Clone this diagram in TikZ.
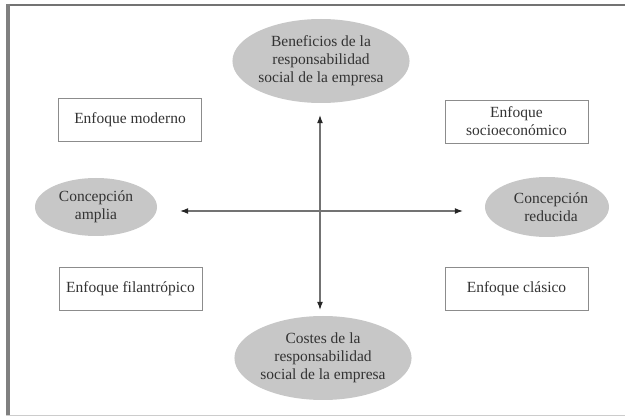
\documentclass[tikz,border=0pt]{standalone}
\usepackage{fontspec}
\setmainfont{Liberation Serif}
\usetikzlibrary{shapes.geometric, positioning, arrows.meta}
\tikzset{
    >={Latex[length=8pt,width=6pt,color=black!85]}, % solid dark arrow heads
    every node/.style={font=\fontsize{15.5}{18}\selectfont, text=black!80, align=center},
    oval/.style={ellipse, fill=black!22, inner sep=0pt}, % grey ovals, no outline
    enfoque/.style={draw=black!45, line width=0.9pt, minimum width=143pt, minimum height=43pt, inner sep=0pt}, % white boxes
    eje/.style={<->, draw=black!55, line width=1.1pt}, % the two axes
    }
\begin{document}
\begin{tikzpicture}[x=1pt, y=-1pt]
    \useasboundingbox (0,0) rectangle (625,417);
    % frame
    \draw[black!55, line width=2pt] (6,5) -- (625,5);
    \draw[black!50, line width=4pt] (7.5,4) -- (7.5,416);
    \draw[black!20, line width=1pt] (6,415.5) -- (625,415.5);

    \node[oval, minimum width=174pt, minimum height=84pt] at (321,61) (BENEFICIOS) {Beneficios de la\\responsabilidad\\social de la empresa};
    \node[oval, minimum width=168pt, minimum height=84pt] at (323,358) (COSTES) {Costes de la\\responsabilidad\\social de la empresa};
    \node[oval, minimum width=122pt, minimum height=58pt] at (96,207) (AMPLIA) {Concepción\\amplia};
    \node[oval, minimum width=124pt, minimum height=60pt] at (547,207) (REDUCIDA) {\hspace*{8pt}Concepción\\\hspace*{8pt}reducida};

    \node[enfoque] at (130,120) (MODERNO) {Enfoque moderno};
    \node[enfoque] at (516.5,121.5) (SOCIO) {Enfoque\\socioeconómico};
    \node[enfoque] at (130.5,289) (FILANTROPICO) {Enfoque filantrópico};
    \node[enfoque] at (516.5,288.5) (CLASICO) {Enfoque clásico};

    \draw[eje, shorten <=12pt, shorten >=6pt] ([xshift=-1pt]BENEFICIOS.south) -- ([xshift=-3pt]COSTES.north);
    \draw[eje, shorten <=23pt, shorten >=22pt] ([yshift=-4pt]AMPLIA.east) -- ([yshift=-4pt]REDUCIDA.west);
\end{tikzpicture}
\end{document}
